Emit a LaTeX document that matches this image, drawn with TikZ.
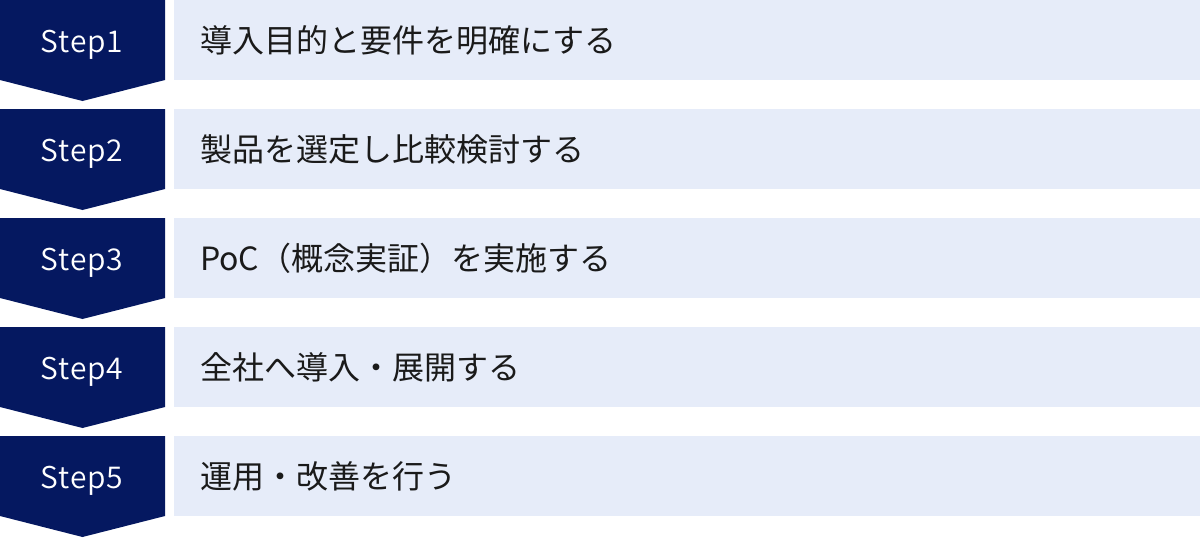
\documentclass[tikz,border=0pt]{standalone}
\usepackage{fontspec}
\newfontfamily\jp{Noto Sans CJK JP}
\newfontfamily\jpl[LetterSpace=3]{Noto Sans CJK JP DemiLight}
\definecolor{navy}{HTML}{051860}
\definecolor{lightbar}{HTML}{E6ECF9}
\definecolor{ink}{HTML}{1A1A1A}
\tikzset{
  stepshape/.style={fill=navy},
  barshape/.style={fill=lightbar},
  steplabel/.style={text=white, font=\jpl\fontsize{30}{34}\selectfont, inner sep=0pt, anchor=base},
  barlabel/.style={text=ink, font=\jp\fontsize{32}{36}\selectfont, anchor=west, inner sep=0pt},
}
\begin{document}
\begin{tikzpicture}[x=1pt,y=-1pt]
\useasboundingbox (0,0) rectangle (1200,538);
\foreach \i/\t in {1/導入目的と要件を明確にする,2/製品を選定し比較検討する,3/PoC（概念実証）を実施する,4/全社へ導入・展開する,5/運用・改善を行う}{
  \pgfmathsetmacro\yy{109*(\i-1)}
  \fill[stepshape] (0,\yy) -- (165,\yy) -- (165,\yy+80) -- (82.5,\yy+101) -- (0,\yy+80) -- cycle;
  \node[steplabel] (s\i) at (82,\yy+52.5) {Step\i};
  \fill[barshape] (174,\yy) rectangle (1200,\yy+80);
  \node[barlabel] (t\i) at (200,\yy+40) {\t};
}
\end{tikzpicture}
\end{document}
